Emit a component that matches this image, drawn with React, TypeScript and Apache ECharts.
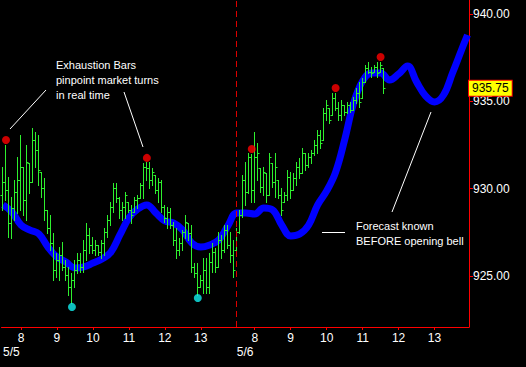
import React, { useEffect, useRef } from "react";
import * as echarts from "echarts";

// ---- session / categories ----
const DAYS = ["5/5", "5/6"];
const BARS_PER_DAY = 78; // 5-minute bars, 7:30 - 14:00
const SESSION_START_MIN = 450; // 7:30
const categories: string[] = [];
DAYS.forEach((d) => {
  for (let k = 0; k < BARS_PER_DAY; k++) {
    const m = SESSION_START_MIN + 5 * k;
    const hh = Math.floor(m / 60);
    const mm = m % 60;
    categories.push(`${d} ${hh}:${mm < 10 ? "0" + mm : mm}`);
  }
});

// ---- OHLC (5-minute bars) ----
const opens = [
  929.64, 930.38, 929.92, 928.03, 928.89, 929.81, 930.5, 931.24, 929.35, 931.47,
  930.38, 932.79, 932.21, 930.95, 930.04, 928.78, 927.75, 926.89, 925.34, 925.92,
  926.2, 925.51, 925.06, 924.37, 924.77, 925.34, 925.92, 925.51, 926.49, 927.35,
  926.77, 926.49, 926.77, 926.37, 926.89, 927.52, 928.21, 928.95, 930.04, 929.46,
  928.78, 928.95, 929.24, 928.78, 928.66, 929.35, 929.46, 930.21, 931.24, 931.18,
  930.5, 930.78, 929.92, 930.38, 928.95, 928.32, 928.66, 927.92, 927.06, 926.49,
  926.89, 927.52, 928.03, 927.46, 925.51, 925.17, 924.37, 924.77, 925.34, 924.37,
  925.8, 926.37, 925.51, 927.06, 926.49, 927.63, 926.77, 926.2,
  926.49, 927.52, 928.49, 930.5, 929.81, 931.81, 929.92, 931.81, 931.18, 930.09,
  930.9, 929.64, 931.47, 930.38, 930.5, 929.64, 929.24, 929.64, 930.67, 929.92,
  930.61, 931.24, 930.9, 932.04, 931.35, 931.81, 932.04, 932.5, 933.07, 932.79,
  934.33, 934.62, 934.22, 935.19, 934.62, 934.22, 934.79, 934.39, 934.79, 934.5,
  935.08, 935.48, 935.19, 936.11, 936.91, 936.68, 936.68, 936.96, 936.68, 936.91,
];
const highs = [
  931.24, 932.5, 930.67, 929.52, 930.5, 931.81, 933.07, 931.24, 932.5, 931.47,
  933.47, 933.24, 933.07, 930.95, 930.61, 928.78, 928.49, 927.46, 926.32, 926.66,
  926.95, 925.92, 925.51, 925.17, 925.92, 926.32, 926.32, 927.06, 928.03, 927.75,
  927.23, 927.06, 926.77, 927.06, 927.75, 928.49, 929.24, 930.32, 930.32, 929.52,
  929.24, 929.81, 929.24, 929.06, 929.52, 929.64, 930.32, 931.47, 931.53, 931.53,
  931.18, 930.78, 930.61, 930.5, 929.06, 928.95, 928.89, 928.09, 927.75, 927.17,
  927.63, 928.49, 928.03, 927.92, 925.74, 925.74, 925.06, 926.03, 926.03, 926.32,
  926.89, 926.6, 927.52, 927.35, 927.92, 927.92, 927.52, 927.06,
  927.75, 928.78, 930.78, 931.53, 932.04, 931.98, 933.24, 932.61, 931.18, 931.24,
  930.9, 932.04, 931.47, 932.04, 930.5, 930.04, 929.81, 931.07, 930.95, 930.9,
  931.53, 931.75, 932.33, 932.04, 932.04, 932.21, 932.79, 933.36, 933.36, 934.62,
  935.08, 934.62, 935.48, 935.48, 934.96, 935.08, 934.79, 934.96, 934.96, 935.25,
  935.76, 936.11, 936.33, 937.08, 937.25, 936.96, 937.08, 937.25, 937.25, 936.91,
];
const lows = [
  928.78, 929.35, 927.23, 927.17, 928.21, 928.61, 928.78, 928.49, 928.21, 929.75,
  930.38, 931.24, 930.21, 929.52, 928.21, 927.46, 926.49, 924.77, 924.94, 924.77,
  925.34, 924.77, 923.91, 923.45, 924.37, 925.17, 925.23, 925.23, 925.92, 926.32,
  926.32, 926.2, 926.2, 926.03, 926.2, 927.23, 927.92, 928.66, 929.24, 928.32,
  928.21, 928.32, 928.66, 928.03, 928.66, 928.89, 929.46, 929.46, 930.5, 930.04,
  930.21, 929.75, 929.24, 928.66, 928.09, 927.75, 927.75, 926.77, 926.03, 926.2,
  926.49, 927.17, 927.06, 925.23, 924.94, 923.91, 924.37, 924.03, 924.03, 924.03,
  925.23, 925.23, 925.51, 926.03, 926.37, 926.6, 925.8, 924.94,
  926.49, 927.46, 928.38, 929.06, 929.75, 929.24, 929.24, 930.5, 929.81, 929.64,
  929.24, 929.64, 930.09, 929.52, 929.46, 928.49, 929.24, 929.35, 929.46, 929.92,
  930.21, 930.61, 930.9, 931.07, 931.24, 931.47, 931.93, 932.04, 932.33, 932.79,
  933.93, 933.76, 934.22, 934.5, 933.93, 933.93, 934.22, 934.33, 934.39, 934.5,
  934.9, 934.67, 935.19, 936.11, 936.62, 936.39, 936.68, 936.39, 936.68, 935.48,
];
const closes = [
  930.38, 929.92, 928.03, 928.89, 929.81, 930.5, 931.24, 929.35, 931.53, 930.38,
  932.79, 932.21, 931.07, 930.04, 928.78, 927.75, 926.89, 925.34, 925.92, 926.2,
  925.51, 925.06, 924.37, 924.77, 925.34, 925.92, 925.51, 926.49, 927.35, 926.77,
  926.49, 926.77, 926.37, 926.89, 927.52, 928.21, 928.95, 930.04, 929.46, 928.78,
  928.95, 929.64, 928.78, 928.49, 929.35, 929.46, 930.21, 931.24, 931.18, 930.5,
  930.95, 929.92, 930.38, 928.95, 928.32, 928.66, 927.92, 927.06, 926.49, 926.89,
  927.52, 928.09, 927.46, 925.51, 925.17, 924.37, 924.77, 925.34, 924.37, 925.8,
  926.37, 925.51, 927.06, 926.49, 927.63, 926.77, 926.2, 925.34,
  927.52, 928.49, 930.5, 929.81, 931.81, 929.92, 931.81, 932.04, 930.09, 930.95,
  929.64, 931.81, 930.38, 931.24, 929.64, 928.78, 929.64, 930.67, 929.92, 930.61,
  931.24, 930.9, 932.04, 931.35, 931.81, 932.04, 932.5, 933.07, 932.61, 934.33,
  934.79, 933.93, 935.19, 934.62, 934.22, 934.79, 934.39, 934.79, 934.5, 935.08,
  935.48, 934.96, 936.11, 936.91, 936.68, 936.62, 936.96, 936.62, 937.08, 935.75,
];

// ---- forecast line (every 15 minutes) ----
const forecastIdx = [
  0, 3, 6, 9, 12, 15, 18, 21, 24, 27, 30, 33, 36, 39, 42, 45, 48, 51, 54, 57, 60,
  63, 66, 69, 72, 75, 78, 81, 84, 87, 90, 93, 96, 99, 102, 105, 108, 111, 114,
  117, 120, 123, 126, 129, 132, 135, 138, 141, 144, 147, 150, 153, 155,
];
const forecastVal = [
  929.07, 928.66, 927.92, 927.63, 927.4, 926.66, 926.09, 925.8, 925.46, 925.52,
  925.74, 925.97, 926.37, 927.35, 928.32, 928.84, 929.07, 928.61, 928.15, 928.03,
  927.63, 926.89, 926.66, 926.78, 927.06, 927.86, 928.61, 928.61, 928.55, 928.89,
  928.78, 927.92, 927.29, 927.4, 927.92, 929.07, 929.87, 930.95, 932.79, 934.9,
  936.16, 936.62, 936.62, 936.22, 936.56, 937.02, 936.11, 935.31, 934.96, 935.36,
  936.62, 937.94, 938.8,
];

// ---- exhaustion markers ----
const topIdx = [1, 48, 83, 111, 126];
const topVal = [932.79, 931.76, 932.27, 935.76, 937.54];
const bottomIdx = [23, 65];
const bottomVal = [923.23, 923.74];

const Y_TICKS = [925, 930, 935, 940];
const Y_MIN = 922.08;
const Y_MAX = 940.8;

const FONT = "Liberation Sans";
const GREEN = "#2ef02e";

export default function App() {
  const ref = useRef<HTMLDivElement>(null);

  useEffect(() => {
    if (!ref.current) return;
    document.body.style.background = "#000";
    const chart = echarts.init(ref.current, undefined, { renderer: "svg" });

    const ohlc = opens.map((o, i) => [i, o, closes[i], lows[i], highs[i]]);
    const lastPrice = closes[closes.length - 1];
    const hourFn = (index: number) => (index % BARS_PER_DAY) % 12 === 6;

    const option: any = {
      animation: false,
      backgroundColor: "#000",
      grid: { left: 1, right: 57, top: 0, bottom: 40 },
      xAxis: [
        {
          type: "category",
          data: categories,
          boundaryGap: true,
          axisLine: { show: true, lineStyle: { color: "#ff0000", width: 1 } },
          axisTick: {
            show: true,
            alignWithLabel: true,
            interval: hourFn,
            length: 3,
            lineStyle: { color: "#ff0000" },
          },
          axisLabel: {
            interval: hourFn,
            formatter: (v: string) => String(parseInt(v.split(" ")[1], 10)),
            color: "#ffffff",
            fontSize: 12,
            fontFamily: FONT,
            margin: 5,
          },
          splitLine: { show: false },
        },
        {
          type: "category",
          data: categories,
          position: "bottom",
          offset: 14,
          axisLine: { show: false },
          axisTick: { show: false },
          axisLabel: {
            interval: (index: number) => index % BARS_PER_DAY === 0,
            formatter: (v: string) => v.split(" ")[0],
            align: "left",
            color: "#ffffff",
            fontSize: 12,
            fontFamily: FONT,
            margin: 5,
          },
          splitLine: { show: false },
        },
      ],
      yAxis: {
        type: "value",
        position: "right",
        min: Y_MIN,
        max: Y_MAX,
        axisLine: { show: true, lineStyle: { color: "#ff0000", width: 1 } },
        axisTick: {
          show: true,
          length: 4,
          customValues: Y_TICKS,
          lineStyle: { color: "#ff0000" },
        },
        axisLabel: {
          customValues: Y_TICKS,
          formatter: (v: number) => v.toFixed(2),
          color: "#ffffff",
          fontSize: 12,
          fontFamily: FONT,
          margin: 4,
        },
        splitLine: { show: false },
      },
      series: [
        {
          type: "line",
          name: "Forecast",
          data: forecastIdx.map((x, i) => [x, forecastVal[i]]),
          smooth: 0.4,
          symbol: "none",
          lineStyle: { color: "#0000ff", width: 7 },
          z: 2,
          markLine: {
            silent: true,
            symbol: ["none", "none"],
            animation: false,
            data: [
              {
                xAxis: categories[BARS_PER_DAY],
                lineStyle: { color: "#dd0000", type: [6, 4], width: 1 },
                label: { show: false },
              },
              {
                yAxis: lastPrice,
                lineStyle: { color: "rgba(0,0,0,0)", width: 0 },
                label: {
                  show: true,
                  position: "end",
                  distance: 0,
                  formatter: () => lastPrice.toFixed(2),
                  backgroundColor: "#ffff00",
                  borderColor: "#ff0000",
                  borderWidth: 1,
                  color: "#000000",
                  padding: [2, 3, 1, 3],
                  fontSize: 12,
                  fontFamily: FONT,
                },
              },
            ],
          },
        },
        {
          type: "custom",
          name: "Bars",
          data: ohlc,
          encode: { x: 0, y: [1, 2, 3, 4] },
          z: 3,
          renderItem: (params: any, api: any) => {
            const idx = api.value(0);
            const o = api.coord([idx, api.value(1)]);
            const c = api.coord([idx, api.value(2)]);
            const l = api.coord([idx, api.value(3)]);
            const h = api.coord([idx, api.value(4)]);
            const px = Math.floor(o[0]) + 0.5;
            const oy = Math.round(o[1]) + 0.5;
            const cy = Math.round(c[1]) + 0.5;
            const st = { stroke: GREEN, lineWidth: 1 };
            return {
              type: "group",
              children: [
                { type: "line", shape: { x1: px, y1: Math.round(h[1]), x2: px, y2: Math.round(l[1]) + 1 }, style: st },
                { type: "line", shape: { x1: px - 2, y1: oy, x2: px, y2: oy }, style: st },
                { type: "line", shape: { x1: px, y1: cy, x2: px + 2, y2: cy }, style: st },
              ],
            };
          },
        },
        {
          type: "scatter",
          name: "Tops",
          data: topIdx.map((x, i) => [x, topVal[i]]),
          symbol: "circle",
          symbolSize: 8,
          itemStyle: { color: "#ff0000" },
          z: 5,
        },
        {
          type: "scatter",
          name: "Bottoms",
          data: bottomIdx.map((x, i) => [x, bottomVal[i]]),
          symbol: "circle",
          symbolSize: 8,
          itemStyle: { color: "#11eeee" },
          z: 5,
        },
      ],
      graphic: [
        {
          type: "text",
          x: 56,
          y: 57,
          z: 10,
          style: {
            text: "Exhaustion Bars\npinpoint market turns\nin real time",
            fill: "#ffffff",
            font: `11px "${FONT}"`,
            lineHeight: 15,
            verticalAlign: "top",
          },
        },
        {
          type: "text",
          x: 356,
          y: 218,
          z: 10,
          style: {
            text: "Forecast known\nBEFORE opening bell",
            fill: "#ffffff",
            font: `11px "${FONT}"`,
            lineHeight: 15,
            verticalAlign: "top",
          },
        },
        { type: "line", z: 10, shape: { x1: 10, y1: 129, x2: 46, y2: 90 }, style: { stroke: "#ffffff", lineWidth: 1 } },
        { type: "line", z: 10, shape: { x1: 124, y1: 92, x2: 143, y2: 147 }, style: { stroke: "#ffffff", lineWidth: 1 } },
        { type: "line", z: 10, shape: { x1: 431, y1: 112, x2: 392, y2: 212 }, style: { stroke: "#ffffff", lineWidth: 1 } },
        { type: "line", z: 10, shape: { x1: 322, y1: 232.5, x2: 345, y2: 232.5 }, style: { stroke: "#ffffff", lineWidth: 1 } },
      ],
    };

    chart.setOption(option);
    return () => chart.dispose();
  }, []);

  return (
    <div
      ref={ref}
      style={{ position: "fixed", left: 0, top: 0, width: 526, height: 367, background: "#000" }}
    />
  );
}
